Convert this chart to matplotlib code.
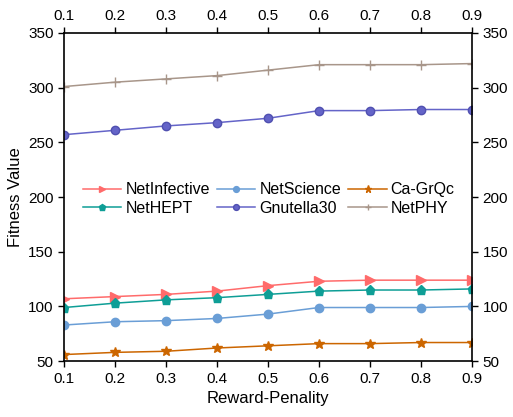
import matplotlib
matplotlib.use("Agg")
import matplotlib.pyplot as plt

plt.rcParams['font.family'] = ['Liberation Sans', 'DejaVu Sans']

x = [0.1, 0.2, 0.3, 0.4, 0.5, 0.6, 0.7, 0.8, 0.9]
net_infective = [107, 109, 111, 114, 119, 123, 124, 124, 124]
net_hept = [99, 103, 106, 108, 111, 114, 115, 115, 116]
net_science = [83, 86, 87, 89, 93, 99, 99, 99, 100]
gnutella30 = [257, 261, 265, 268, 272, 279, 279, 280, 280]
ca_grqc = [56, 58, 59, 62, 64, 66, 66, 67, 67]
net_phy = [301, 305, 308, 311, 316, 321, 321, 321, 322]

fig = plt.figure(figsize=(5.13, 4.17), dpi=100)
ax = fig.add_axes([0.125, 0.134, 0.795, 0.787])

ax.plot(x, net_infective, color='#FF6B6B', marker='>', ms=6.5, lw=1.1, label='NetInfective')
ax.plot(x, net_hept, color='#0E9E96', marker='p', ms=6.5, lw=1.1, label='NetHEPT')
ax.plot(x, net_science, color='#6A9ED6', marker='o', ms=6, lw=1.1, label='NetScience')
ax.plot(x, gnutella30, color='#6464C8', marker='o', ms=6, lw=1.1, label='Gnutella30',
        markeredgecolor='#5050B0')
ax.plot(x, ca_grqc, color='#CC6600', marker='*', ms=7.5, lw=1.1, label='Ca-GrQc')
ax.plot(x, net_phy, color='#A8968A', marker='+', ms=7, lw=1.1, label='NetPHY')

ax.set_xlim(0.1, 0.9)
ax.set_ylim(50, 350)
ax.set_xticks(x)
ax.set_xticklabels([f'{v:.1f}' for v in x])
ax.set_yticks([50, 100, 150, 200, 250, 300, 350])
ax.tick_params(axis='both', which='both', direction='out', length=4, width=1,
               labelsize=11, top=True, right=True, labeltop=True, labelright=True)
for s in ax.spines.values():
    s.set_linewidth(1.2)

ax.set_xlabel('Reward-Penality', fontsize=12)
ax.set_ylabel('Fitness Value', fontsize=12)

ax.legend(ncol=3, loc='center', bbox_to_anchor=(0.502, 0.494), frameon=False,
          fontsize=11.5, handlelength=2.4, columnspacing=0.45, handletextpad=0.25,
          labelspacing=0.2, markerscale=0.7, borderaxespad=0, borderpad=0)

fig.savefig('out.png', dpi=100)
